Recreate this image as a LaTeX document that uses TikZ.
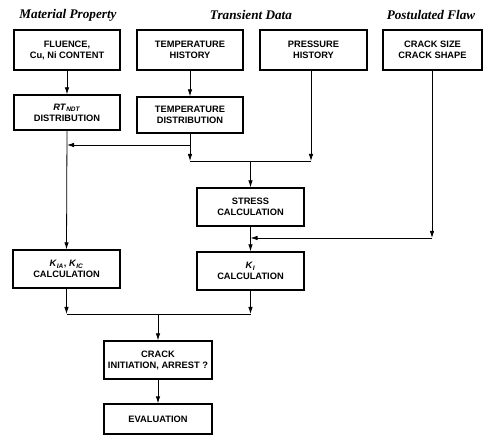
\documentclass[tikz,border=0pt]{standalone}
\usepackage{fontspec}
\setmainfont{Liberation Sans}
\newfontfamily\headfont{Liberation Serif}
\usetikzlibrary{arrows.meta}
\tikzset{
  box/.style={draw, line width=1.3pt, align=center, inner sep=1pt,
    font=\fontsize{9.3}{11}\selectfont\bfseries},
  head/.style={font=\headfont\fontsize{13.2}{15}\selectfont\bfseries\itshape, inner sep=0pt},
  conn/.style={line width=0.8pt},
  arr/.style={conn, -{Latex[length=7pt,width=4.5pt]}},
}
\begin{document}
\begin{tikzpicture}[x=1pt,y=-1pt]
\useasboundingbox (0,0) rectangle (487,435);
% headings
\node[head] (h1) at (68,15) {Material Property};
\node[head] (h2) at (251,15) {Transient Data};
\node[head] (h3) at (431,15) {Postulated Flaw};
% row 1
\node[box, minimum width=106pt, minimum height=40pt] (fl) at (67,50) {FLUENCE,\\Cu, Ni CONTENT};
\node[box, minimum width=106pt, minimum height=40pt] (th) at (190,50) {TEMPERATURE\\HISTORY};
\node[box, minimum width=107pt, minimum height=40pt] (ph) at (313.5,50) {PRESSURE\\HISTORY};
\node[box, minimum width=99pt, minimum height=40pt] (cs) at (432.5,50) {CRACK SIZE\\CRACK SHAPE};
% row 2
\node[box, minimum width=106pt, minimum height=35pt] (rt) at (67,112.5) {\textit{RT}\textsubscript{\textit{NDT}}\\DISTRIBUTION};
\node[box, minimum width=106pt, minimum height=36pt] (td) at (190,115) {TEMPERATURE\\DISTRIBUTION};
% stress
\node[box, minimum width=107pt, minimum height=38pt] (st) at (250.5,207) {STRESS\\CALCULATION};
% K boxes
\node[box, minimum width=107pt, minimum height=38pt] (ka) at (66.5,269) {\textit{K}\textsubscript{\textit{IA}}, \textit{K}\textsubscript{\textit{IC}}\\CALCULATION};
\node[box, minimum width=107pt, minimum height=38pt] (ki) at (250.5,271) {\textit{K}\textsubscript{\textit{I}}\\CALCULATION};
% crack init
\node[box, minimum width=108pt, minimum height=38pt] (ci) at (158,360) {CRACK\\INITIATION, ARREST ?};
\node[box, minimum width=108pt, minimum height=30pt] (ev) at (158,419) {EVALUATION};
% junction coordinates
\coordinate (j1) at (190,145);
\coordinate (j1l) at (67,145);
\coordinate (b1) at (190,161);
\coordinate (b2) at (311,161);
\coordinate (bm) at (250.5,161);
\coordinate (c1) at (432,238);
\coordinate (c2) at (250.5,238);
\coordinate (d1) at (66.5,314);
\coordinate (d2) at (250.5,314);
\coordinate (dm) at (158,314);
% connectors
\draw[arr] (fl.south) -- (rt.north);
\draw[arr] (th.south) -- (td.north);
\draw[arr] (rt.south) -- (ka.north);
\draw[conn] (td.south) -- (j1);
\draw[arr] (j1) -- (j1l);
\draw[arr] (j1) -- (b1);
\draw[arr] (ph.south -| b2) -- (b2);
\draw[conn] (b1) -- (b2);
\draw[arr] (bm) -- (st.north);
\draw[arr] (cs.south -| c1) -- (c1);
\draw[arr] (c1) -- (c2);
\draw[arr] (st.south) -- (ki.north);
\draw[arr] (ka.south) -- (d1);
\draw[arr] (ki.south) -- (d2);
\draw[conn] (d1) -- (d2);
\draw[arr] (dm) -- (ci.north);
\draw[arr] (ci.south) -- (ev.north);
\end{tikzpicture}
\end{document}
